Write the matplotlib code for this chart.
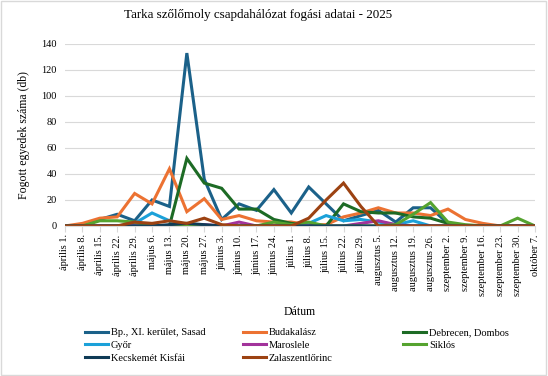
import matplotlib
matplotlib.use("Agg")
import matplotlib.pyplot as plt
from matplotlib.patches import Rectangle

# weekly trap dates
dates = ["április 1.", "április 8.", "április 15.", "április 22.", "április 29.",
         "május 6.", "május 13.", "május 20.", "május 27.",
         "június 3.", "június 10.", "június 17.", "június 24.",
         "július 1.", "július 8.", "július 15.", "július 22.", "július 29.",
         "augusztus 5.", "augusztus 12.", "augusztus 19.", "augusztus 26.",
         "szeptember 2.", "szeptember 9.", "szeptember 16.", "szeptember 23.",
         "szeptember 30.", "október 7."]

# catches per site
sasad = [0, 0, 5, 9, 4, 20, 15, 133, 36, 5, 17, 12, 28, 10, 30, 17, 4, 8, 12, 3, 14, 14, 2, 0, 0, 0, 0, 0]
budakalasz = [0, 2, 6, 7, 25, 17, 44, 11, 21, 5, 8, 4, 3, 3, 1, 1, 7, 10, 14, 10, 10, 8, 13, 5, 2, 0, 0, 0]
debrecen = [0, 0, 0, 0, 0, 0, 0, 52, 33, 29, 13, 13, 5, 2, 1, 0, 17, 11, 10, 10, 7, 6, 2, 0, 0, 0, 0, 0]
gyor = [0, 0, 0, 0, 2, 10, 4, 1, 0, 0, 0, 0, 0, 1, 2, 8, 4, 5, 3, 1, 4, 0, 0, 0, 0, 0, 0, 0]
maroslele = [0, 0, 0, 0, 0, 0, 0, 0, 1, 0, 3, 0, 0, 0, 0, 0, 0, 2, 4, 1, 0, 0, 0, 0, 0, 0, 0, 0]
siklos = [0, 0, 4, 4, 3, 0, 0, 0, 0, 0, 0, 0, 3, 1, 3, 0, 0, 0, 0, 1, 9, 18, 3, 1, 0, 0, 6, 0]
kecskemet = [0, 0, 0, 0, 0, 0, 1, 2, 1, 0, 0, 0, 0, 0, 0, 0, 0, 0, 0, 0, 0, 0, 0, 0, 0, 0, 0, 0]
zala = [0, 0, 0, 0, 3, 2, 4, 2, 6, 1, 0, 0, 0, 0, 6, 20, 33, 15, 0, 0, 0, 0, 0, 0, 0, 0, 0, 0]

series = [
    ("Bp., XI. kerület, Sasad", sasad, "#1b6189"),
    ("Budakalász", budakalasz, "#ec7232"),
    ("Debrecen, Dombos", debrecen, "#1d6b25"),
    ("Győr", gyor, "#1ba1d9"),
    ("Maroslele", maroslele, "#a2339b"),
    ("Siklós", siklos, "#55a32f"),
    ("Kecskemét Kisfái", kecskemet, "#0f3b56"),
    ("Zalaszentlőrinc", zala, "#9c4212"),
]

plt.rcParams["font.family"] = ["Liberation Serif", "DejaVu Serif"]

fig = plt.figure(figsize=(5.48, 3.76), dpi=100)
ax = fig.add_axes([0.1186, 0.399, 0.8577, 0.484])

x = list(range(len(dates)))
lines = {}
for name, vals, col in series:
    ln, = ax.plot(x, vals, color=col, lw=2.2, label=name, solid_joinstyle="miter")
    lines[name] = ln

ax.set_xlim(0, len(dates) - 1)
ax.set_ylim(0, 140)
ax.set_yticks(range(0, 141, 20))
ax.grid(axis="y", color="#d9d9d9", lw=0.8)
ax.set_axisbelow(True)
for s in ["top", "right", "left"]:
    ax.spines[s].set_visible(False)
ax.spines["bottom"].set_color("#d9d9d9")
ax.tick_params(axis="y", length=0, labelsize=7.5, pad=6)
ax.tick_params(axis="x", length=4, color="#d9d9d9", labelsize=7.4, pad=2)
ax.set_xticks(x)
ax.set_xticklabels(dates, rotation=90)

fig.suptitle("Tarka szőlőmoly csapdahálózat fogási adatai - 2025", fontsize=9.4,
             x=0.471, y=0.975, va="top")
ax.set_ylabel("Fogott egyedek száma (db)", fontsize=8.5, labelpad=8)
ax.set_xlabel("Dátum", fontsize=8.5, labelpad=7)

# legend filled row by row like the original: one legend per column
columns = [
    (["Bp., XI. kerület, Sasad", "Győr", "Kecskemét Kisfái"], 0.155),
    (["Budakalász", "Maroslele", "Zalaszentlőrinc"], 0.443),
    (["Debrecen, Dombos", "Siklós"], 0.735),
]
for names, xpos in columns:
    fig.legend([lines[n] for n in names], names, loc="upper left",
               bbox_to_anchor=(xpos, 0.128), frameon=False, fontsize=7.5,
               handlelength=2.2, handletextpad=0.3,
               labelspacing=0.35, borderaxespad=0, borderpad=0)

fig.patches.append(Rectangle((0.002, 0.003), 0.994, 0.994, transform=fig.transFigure,
                             fill=False, edgecolor="#d9d9d9", lw=1))

fig.savefig("out.png", dpi=100)
